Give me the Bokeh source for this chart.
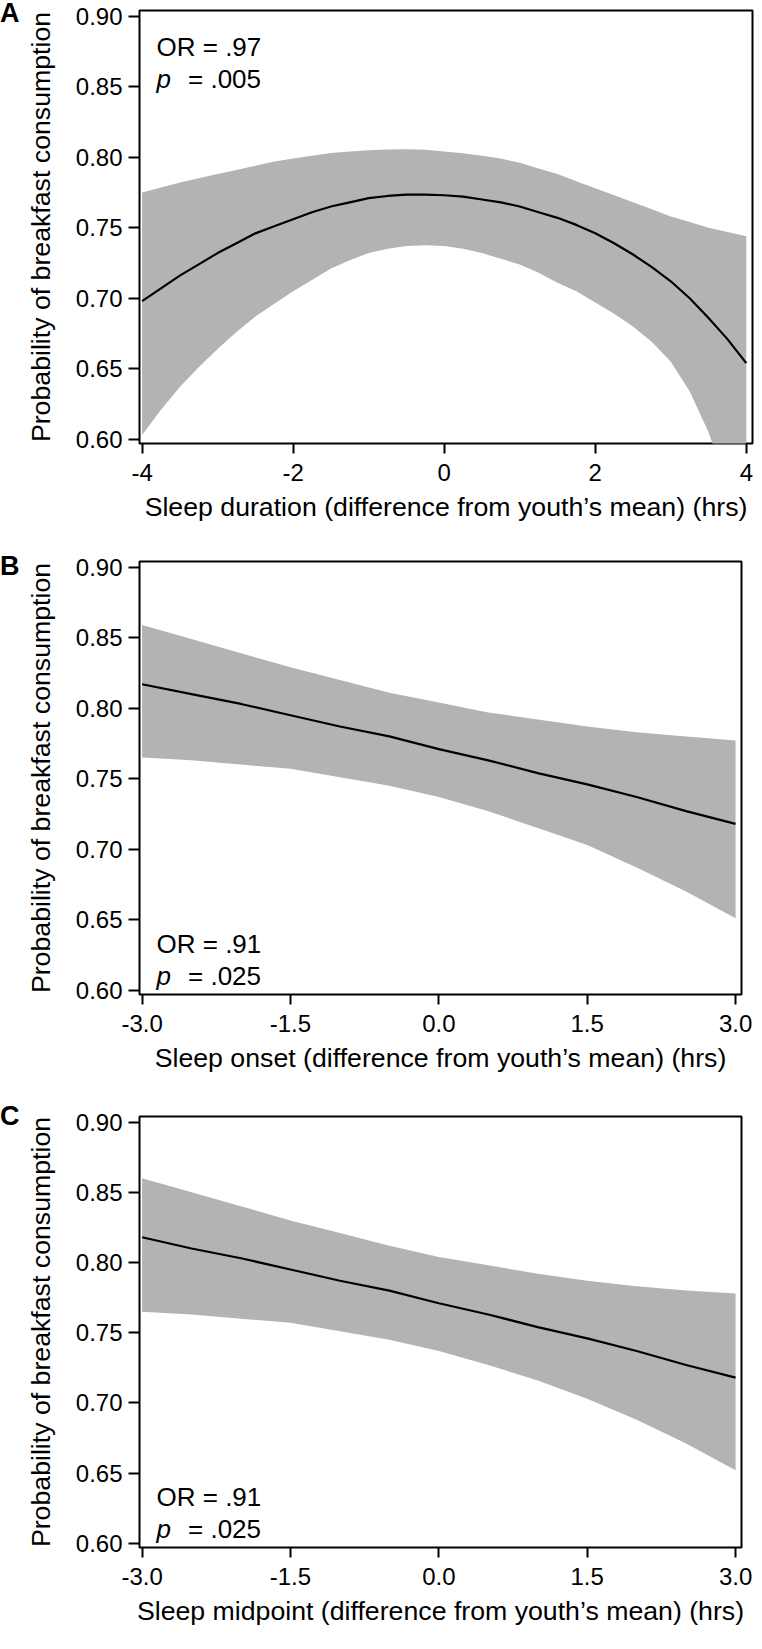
from bokeh.plotting import figure
from bokeh.models import Label, FixedTicker, Range1d, Div
from bokeh.layouts import column, row
from bokeh.embed import file_html
from bokeh.resources import INLINE

FONT = "Liberation Sans"

# ---------------- data ----------------
# Panel A: sleep duration
a_x = [-4.0, -3.75, -3.5, -3.25, -3.0, -2.75, -2.5, -2.25, -2.0, -1.75, -1.5, -1.25, -1.0,
       -0.75, -0.5, -0.25, 0.0, 0.25, 0.5, 0.75, 1.0, 1.25, 1.5, 1.75, 2.0, 2.25, 2.5, 2.75,
       3.0, 3.25, 3.5, 3.75, 4.0]
a_fit = [0.698, 0.707, 0.716, 0.724, 0.732, 0.739, 0.746, 0.751, 0.756, 0.761, 0.765, 0.768, 0.771,
         0.7725, 0.7735, 0.7735, 0.773, 0.772, 0.770, 0.768, 0.765, 0.761, 0.757, 0.752, 0.746,
         0.739, 0.731, 0.722, 0.712, 0.700, 0.686, 0.671, 0.654]
a_hi = [0.775, 0.7785, 0.782, 0.785, 0.788, 0.791, 0.794, 0.797, 0.799, 0.801, 0.803, 0.804, 0.805,
        0.8055, 0.8057, 0.8052, 0.804, 0.8028, 0.801, 0.799, 0.796, 0.792, 0.788, 0.783, 0.778,
        0.773, 0.768, 0.763, 0.758, 0.754, 0.750, 0.747, 0.744]
a_lo = [0.603, 0.621, 0.637, 0.651, 0.664, 0.676, 0.687, 0.696, 0.705, 0.713, 0.721, 0.727, 0.732,
        0.735, 0.737, 0.7375, 0.737, 0.735, 0.732, 0.728, 0.724, 0.718, 0.711, 0.705, 0.697,
        0.689, 0.680, 0.669, 0.655, 0.634, 0.605, 0.567, 0.520]
a_xticks = [-4, -2, 0, 2, 4]
a_xlabels = ["-4", "-2", "0", "2", "4"]

# Panel B: sleep onset
b_x = [-3.0, -2.5, -2.0, -1.5, -1.0, -0.5, 0.0, 0.5, 1.0, 1.5, 2.0, 2.5, 3.0]
b_fit = [0.817, 0.810, 0.803, 0.795, 0.787, 0.780, 0.771, 0.763, 0.754, 0.746, 0.737, 0.727, 0.718]
b_hi = [0.859, 0.849, 0.839, 0.829, 0.820, 0.811, 0.804, 0.797, 0.792, 0.787, 0.783, 0.780, 0.777]
b_lo = [0.765, 0.763, 0.760, 0.757, 0.751, 0.745, 0.737, 0.727, 0.715, 0.703, 0.687, 0.670, 0.651]

# Panel C: sleep midpoint
c_x = [-3.0, -2.5, -2.0, -1.5, -1.0, -0.5, 0.0, 0.5, 1.0, 1.5, 2.0, 2.5, 3.0]
c_fit = [0.818, 0.810, 0.803, 0.795, 0.787, 0.780, 0.771, 0.763, 0.754, 0.746, 0.737, 0.727, 0.718]
c_hi = [0.860, 0.850, 0.840, 0.830, 0.821, 0.812, 0.804, 0.798, 0.792, 0.787, 0.783, 0.780, 0.778]
c_lo = [0.765, 0.763, 0.760, 0.757, 0.751, 0.745, 0.737, 0.727, 0.716, 0.703, 0.688, 0.671, 0.652]

bc_xticks = [-3.0, -1.5, 0.0, 1.5, 3.0]
bc_xlabels = ["-3.0", "-1.5", "0.0", "1.5", "3.0"]

y_ticks = [0.60, 0.65, 0.70, 0.75, 0.80, 0.85, 0.90]
y_labels = ["0.60", "0.65", "0.70", "0.75", "0.80", "0.85", "0.90"]

y_title = "Probability of breakfast consumption"
a_title = "Sleep duration (difference from youth\u2019s mean) (hrs)"
b_title = "Sleep onset (difference from youth\u2019s mean) (hrs)"
c_title = "Sleep midpoint (difference from youth\u2019s mean) (hrs)"

LW = 22          # width of the panel-letter strip
W = 754 - LW     # width of each chart
LEFT = 136 - LW  # left border of each chart


def letter_div(letter, height, top):
    html = ('<div style="margin:0;padding:0;padding-top:%dpx;font-family:\'Liberation Sans\';'
            'font-size:27px;font-weight:bold;line-height:1;color:black;">%s</div>' % (top, letter))
    return Div(text=html, width=LW, height=height, margin=(0, 0, 0, 0))


def panel(x, fit, lo, hi, xticks, xlabels, xtitle, xr, height, btop, bright,
          frame_h, or_text, p_text, ann_top):
    p = figure(width=W, height=height, output_backend="svg", toolbar_location=None,
               x_range=Range1d(*xr), y_range=Range1d(0.597, 0.904),
               min_border_left=LEFT, min_border_right=bright, min_border_top=btop,
               min_border_bottom=height - btop - frame_h)
    p.background_fill_color = "white"
    p.border_fill_color = "white"
    p.outline_line_color = "black"
    p.outline_line_width = 2
    p.outline_line_alpha = 1
    p.grid.visible = False

    p.varea(x=x, y1=lo, y2=hi, fill_color="#b3b3b3", fill_alpha=1)
    p.line(x, fit, line_color="black", line_width=2.2)

    p.xaxis.ticker = FixedTicker(ticks=xticks)
    p.xaxis.major_label_overrides = {t: s for t, s in zip(xticks, xlabels)}
    p.yaxis.ticker = FixedTicker(ticks=y_ticks)
    p.yaxis.major_label_overrides = {t: s for t, s in zip(y_ticks, y_labels)}

    for ax in (p.xaxis[0], p.yaxis[0]):
        ax.axis_line_color = None
        ax.major_tick_line_color = "black"
        ax.major_tick_line_width = 2
        ax.major_tick_in = 0
        ax.minor_tick_line_color = None
        ax.major_label_text_font = FONT
        ax.major_label_text_font_size = "24px"
        ax.major_label_text_color = "black"
        ax.axis_label_text_font = FONT
        ax.axis_label_text_font_size = "26.7px"
        ax.axis_label_text_font_style = "normal"
        ax.axis_label_text_color = "black"

    p.xaxis.major_tick_out = 10
    p.xaxis.major_label_standoff = 10
    p.xaxis.axis_label = xtitle
    p.xaxis.axis_label_standoff = 8

    p.yaxis.major_tick_out = 11
    p.yaxis.major_label_standoff = 6
    p.yaxis.axis_label = y_title
    p.yaxis.axis_label_standoff = 17

    # annotations (screen units measured from frame bottom-left)
    y1 = frame_h - ann_top
    y2 = y1 - 32
    p.add_layout(Label(x=17, y=y1, x_units="screen", y_units="screen", text=or_text,
                       text_font=FONT, text_font_size="26px",
                       text_baseline="alphabetic", text_color="black"))
    p.add_layout(Label(x=17, y=y2, x_units="screen", y_units="screen", text="p",
                       text_font=FONT, text_font_size="26px", text_font_style="italic",
                       text_baseline="alphabetic", text_color="black"))
    p.add_layout(Label(x=48.5, y=y2, x_units="screen", y_units="screen", text=p_text,
                       text_font=FONT, text_font_size="26px",
                       text_baseline="alphabetic", text_color="black"))
    return p


pa = panel(a_x, a_fit, a_lo, a_hi, a_xticks, a_xlabels, a_title, (-4.034, 4.082),
           541, 10, 2, 433, "OR = .97", "= .005", 36)
pb = panel(b_x, b_fit, b_lo, b_hi, bc_xticks, bc_xlabels, b_title, (-3.026, 3.06),
           555, 20, 13, 433, "OR = .91", "= .025", 382)
pc = panel(c_x, c_fit, c_lo, c_hi, bc_xticks, bc_xlabels, c_title, (-3.026, 3.06),
           537, 20, 13, 431, "OR = .91", "= .025", 380)

la = letter_div("A", 541, 0)
lb = letter_div("B", 555, 12)
lc = letter_div("C", 537, 7)

layout = column(row(la, pa, spacing=0), row(lb, pb, spacing=0), row(lc, pc, spacing=0), spacing=0)
open("out.html", "w").write(file_html(layout, INLINE))
